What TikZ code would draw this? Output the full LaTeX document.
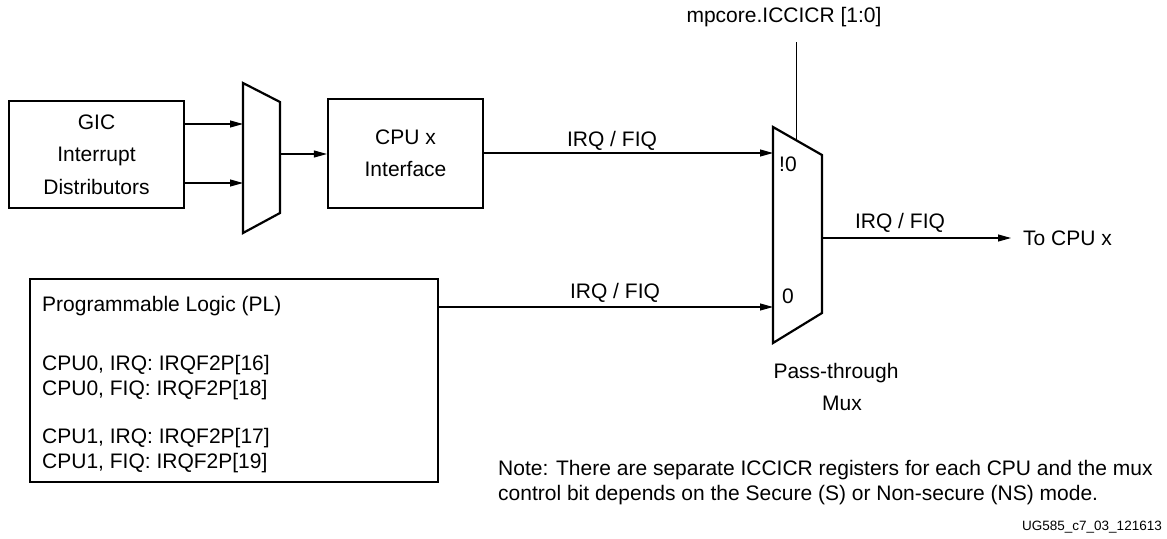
\documentclass[tikz,border=0pt]{standalone}
\usepackage{fontspec}
\setmainfont{Liberation Sans}
\usetikzlibrary{arrows.meta}
\tikzset{
  blk/.style={draw, line width=2.2pt, inner sep=0pt, align=center,
    font=\fontsize{21}{32.5}\selectfont},
  muxline/.style={draw, line width=2.2pt, line join=miter},
  sig/.style={line width=1.1pt, -{Triangle[length=13pt,width=7pt]}},
  ctl/.style={line width=0.9pt},
  lbl/.style={inner sep=0pt, text height=0.716em, text depth=0pt,
    font=\fontsize{21}{25}\selectfont},
  small/.style={inner sep=0pt, text height=0.716em, text depth=0pt,
    font=\fontsize{13.5}{16}\selectfont}
}
\begin{document}
\begin{tikzpicture}[x=1pt,y=-1pt]
\useasboundingbox (0,0) rectangle (1167,538);

% boxes
\node[blk, minimum width=175pt, minimum height=107pt] (gic) at (96.5,154.5)
  {GIC\\Interrupt\\Distributors};
\node[blk, minimum width=155pt, minimum height=109pt] (cpu) at (405.5,153.5)
  {CPU x\\Interface};
\node[blk, minimum width=408pt, minimum height=203pt] (pl) at (234,380.5) {};

% PL text
\node[lbl, anchor=west] (pl1) at (42,308) {Programmable Logic (PL)};
\node[lbl, anchor=west] (pl2) at (42,367) {CPU0, IRQ: IRQF2P[16]};
\node[lbl, anchor=west] (pl3) at (42,392) {CPU0, FIQ: IRQF2P[18]};
\node[lbl, anchor=west] (pl4) at (42,440) {CPU1, IRQ: IRQF2P[17]};
\node[lbl, anchor=west] (pl5) at (42,465) {CPU1, FIQ: IRQF2P[19]};

% small mux
\coordinate (sa) at (243,83);
\coordinate (sb) at (280,102);
\coordinate (sc) at (280,213);
\coordinate (sd) at (243,233);
\draw[muxline] (sa) -- (sb) -- (sc) -- (sd) -- cycle;
\coordinate (sin1) at (243,124);
\coordinate (sin2) at (243,183);
\coordinate (sout) at (280,154);

% big mux
\coordinate (ba) at (773,127);
\coordinate (bb) at (822,155);
\coordinate (bc) at (822,313);
\coordinate (bd) at (773,343);
\draw[muxline] (ba) -- (bb) -- (bc) -- (bd) -- cycle;
\coordinate (bin1) at (773,153);
\coordinate (bin2) at (773,307);
\coordinate (bout) at (822,238);
\coordinate (bctl) at (796,140);
\coordinate (ctltop) at (796,42);
\coordinate (outend) at (1011,238);

\node[lbl, anchor=west] (in1lbl) at (779,168) {!0};
\node[lbl, anchor=west] (in0lbl) at (782,300) {0};

% connectors
\draw[sig] (gic.east |- sin1) -- (sin1);
\draw[sig] (gic.east |- sin2) -- (sin2);
\draw[sig] (sout) -- (cpu.west |- sout);
\draw[sig] (cpu.east |- bin1) -- (bin1);
\draw[sig] (pl.east |- bin2) -- (bin2);
\draw[sig] (bout) -- (outend);
\draw[ctl] (ctltop) -- (bctl);

% labels
\node[lbl] (l1) at (612,143) {IRQ / FIQ};
\node[lbl] (l2) at (615,295) {IRQ / FIQ};
\node[lbl] (l3) at (900,225) {IRQ / FIQ};
\node[lbl, anchor=west] (tocpu) at (1023,242) {To CPU x};
\node[lbl] (ctl) at (784,19) {mpcore.ICCICR [1:0]};
\node[lbl] (pt1) at (836,375) {Pass-through};
\node[lbl] (pt2) at (842,407) {Mux};

\node[lbl, anchor=west] (note1) at (498,472)
  {Note: There are separate ICCICR registers for each CPU and the mux};
\node[lbl, anchor=west] (note2) at (498,497)
  {control bit depends on the Secure (S) or Non-secure (NS) mode.};
\node[small, anchor=east] (ug) at (1162,527) {UG585\_c7\_03\_121613};
\end{tikzpicture}
\end{document}
